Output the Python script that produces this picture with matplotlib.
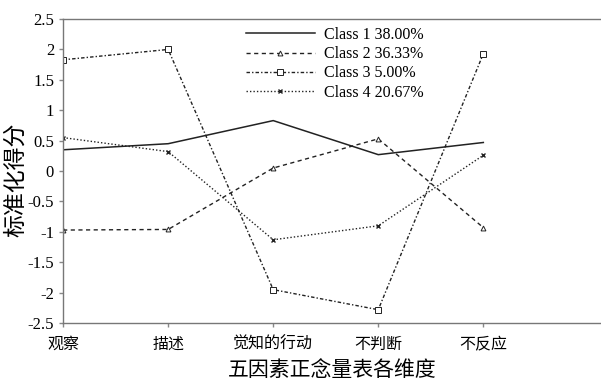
import matplotlib
matplotlib.use("Agg")
import matplotlib.pyplot as plt

plt.rcParams['font.family'] = ['Liberation Serif', 'Noto Sans CJK SC']
plt.rcParams['axes.unicode_minus'] = False

categories = ['观察', '描述', '觉知的行动', '不判断', '不反应']
class1 = [0.35, 0.45, 0.83, 0.27, 0.47]
class2 = [-0.97, -0.96, 0.05, 0.53, -0.93]
class3 = [1.83, 2.00, -1.95, -2.28, 1.93]
class4 = [0.55, 0.32, -1.13, -0.90, 0.26]
labels = ['Class 1 38.00%', 'Class 2 36.33%', 'Class 3 5.00%', 'Class 4 20.67%']
yticks = [2.5, 2, 1.5, 1, 0.5, 0, -0.5, -1, -1.5, -2, -2.5]
ytick_labels = ['2.5', '2', '1.5', '1', '0.5', '0', '-0.5', '-1', '-1.5', '-2', '-2.5']

fig = plt.figure(figsize=(6.01, 3.81), dpi=100)
ax = fig.add_axes([0.105, 0.152, 0.895, 0.798])
x = list(range(len(categories)))
col = '#222222'
ax.plot(x, class1, color=col, lw=1.1, ls='-', label=labels[0])
ax.plot(x, class2, color=col, lw=1.0, ls=(0, (3, 2.5)), marker='^', ms=3.5,
        mfc='white', mec=col, mew=0.7, label=labels[1])
ax.plot(x, class3, color=col, lw=1.0, ls=(0, (2.5, 1.5, 1, 1.5)), marker='s', ms=4.5,
        mfc='white', mec=col, mew=0.7, label=labels[2])
ax.plot(x, class4, color=col, lw=1.0, ls=(0, (1, 1.5)), marker='x', ms=3.5,
        mec=col, mew=1.0, label=labels[3])

ax.set_xlim(0, 5.12)
ax.set_ylim(-2.5, 2.5)
ax.set_xticks(x)
ax.set_xticklabels(categories, fontsize=11.5)
ax.set_yticks(yticks)
ax.set_yticklabels(ytick_labels, fontsize=12)
ax.tick_params(axis='both', direction='out', length=3, color='#888888', width=1)
ax.tick_params(axis='x', pad=7)
for s in ['left', 'bottom', 'top']:
    ax.spines[s].set_color('#777777')
    ax.spines[s].set_linewidth(1.0)
ax.spines['right'].set_visible(False)

ax.set_ylabel('标准化得分', fontsize=16.5)
ax.yaxis.set_label_coords(-0.067, 0.47)
ax.set_xlabel('五因素正念量表各维度', fontsize=15, labelpad=6)

leg = ax.legend(loc='upper left', bbox_to_anchor=(246 / 601, 1 - 27 / 381),
                bbox_transform=fig.transFigure, frameon=False,
                fontsize=11.5, handlelength=4.3, handletextpad=0.6,
                labelspacing=0.2, borderpad=0, borderaxespad=0)

fig.savefig('out.png', dpi=100)
